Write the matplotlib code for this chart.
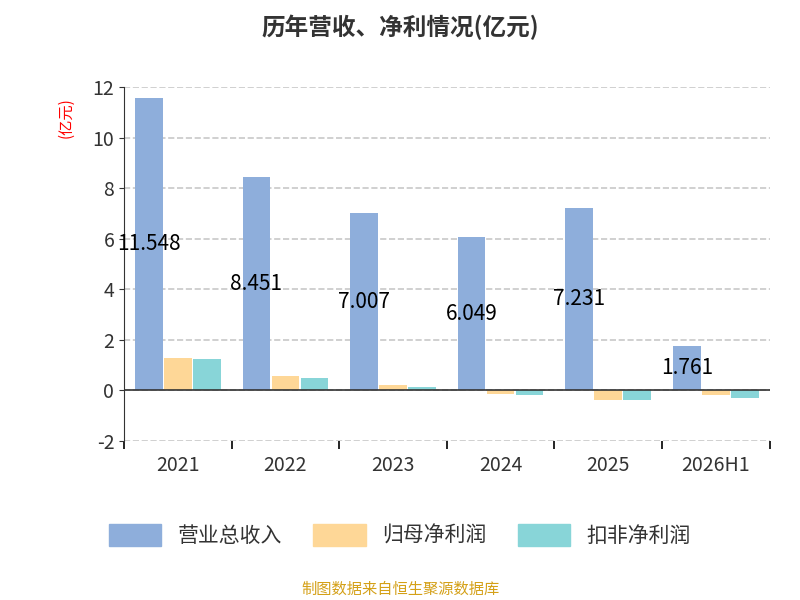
import numpy as np
import matplotlib.pyplot as plt

plt.rcParams['font.family'] = ['Noto Sans CJK SC', 'DejaVu Sans']
plt.rcParams['axes.unicode_minus'] = False

years = ['2021', '2022', '2023', '2024', '2025', '2026H1']
revenue = [11.548, 8.451, 7.007, 6.049, 7.231, 1.761]
net_profit = [1.30, 0.57, 0.22, -0.13, -0.37, -0.19]
deducted_profit = [1.25, 0.48, 0.14, -0.20, -0.38, -0.31]

fig = plt.figure(figsize=(8, 6), dpi=100)
ax = fig.add_axes([0.155, 0.265, 0.807, 0.59])

x = np.arange(len(years))
w = 0.27
ax.bar(x - w, revenue, w * 0.95, color='#8eaedb')
ax.bar(x, net_profit, w * 0.95, color='#fed797')
ax.bar(x + w, deducted_profit, w * 0.95, color='#88d5d8')
for xi, v in zip(x, revenue):
    ax.text(xi - w, v / 2, f'{v:.3f}', ha='center', va='center', fontsize=15, color='black')

ax.set_xlim(-0.5, len(years) - 0.5)
ax.set_ylim(-2, 12)
ax.set_yticks(range(-2, 13, 2))
ax.set_xticks(x)
ax.set_xticklabels(years)
ax.tick_params(axis='both', labelsize=14, colors='#333333')
ax.set_xticks(np.arange(len(years) + 1) - 0.5, minor=True)
ax.tick_params(axis='x', which='major', length=0, pad=10)
ax.tick_params(axis='x', which='minor', length=6, width=1.2)
ax.grid(axis='y', linestyle='--', color='#c8c8c8', linewidth=1.2)
ax.set_axisbelow(True)
for s in ['top', 'right', 'bottom']:
    ax.spines[s].set_visible(False)
ax.spines['left'].set_color('#333333')
ax.axhline(0, color='#333333', linewidth=1.2)
ax.text(-0.09, 0.97, '(亿元)', transform=ax.transAxes, rotation=90, color='red',
        fontsize=11, ha='center', va='top')

fig.text(0.5, 0.955, '历年营收、净利情况(亿元)', ha='center', va='center', fontsize=17,
         fontweight='bold', color='#333333')
handles = [plt.Rectangle((0, 0), 1, 1, color=c) for c in ['#8eaedb', '#fed797', '#88d5d8']]
fig.legend(handles, ['营业总收入', '归母净利润', '扣非净利润'], loc='center', ncol=3,
           bbox_to_anchor=(0.5, 0.108), frameon=False, fontsize=15, handlelength=2.5,
           handleheight=1.3, columnspacing=1.5, labelcolor='#333333')
fig.text(0.5, 0.018, '制图数据来自恒生聚源数据库', ha='center', va='center', fontsize=11,
         color='#d4a017')

fig.savefig('out.png')
